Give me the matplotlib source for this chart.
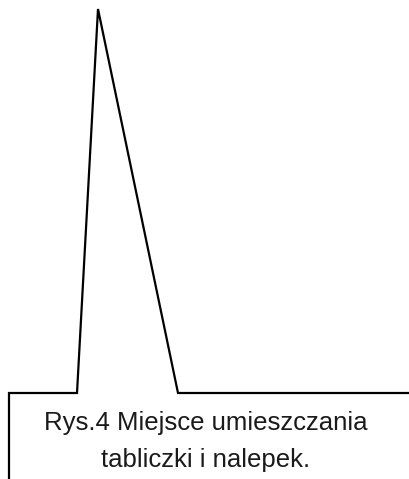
import matplotlib
matplotlib.use("Agg")
import matplotlib.pyplot as plt

# outline of the sign / label placement drawing (image pixel units)
outline_x = [9, 9, 77, 98, 178, 409]
outline_y = [479, 393, 393, 9, 393, 393]

caption_lines = ["Rys.4 Miejsce umieszczania", "tabliczki i nalepek."]
caption_x = 206
caption_y = [430, 467]

fig = plt.figure(figsize=(4.09, 4.79), dpi=100)
ax = fig.add_axes([0, 0, 1, 1])
ax.set_xlim(0, 409)
ax.set_ylim(479, 0)
ax.axis('off')

ax.plot(outline_x, outline_y, color='black', linewidth=1.6, solid_joinstyle='miter')

for txt, y in zip(caption_lines, caption_y):
    ax.text(caption_x, y, txt, ha='center', va='baseline', fontsize=18.5,
            family='Liberation Sans', color='#1a1a1a')

fig.savefig('out.png', dpi=100)
